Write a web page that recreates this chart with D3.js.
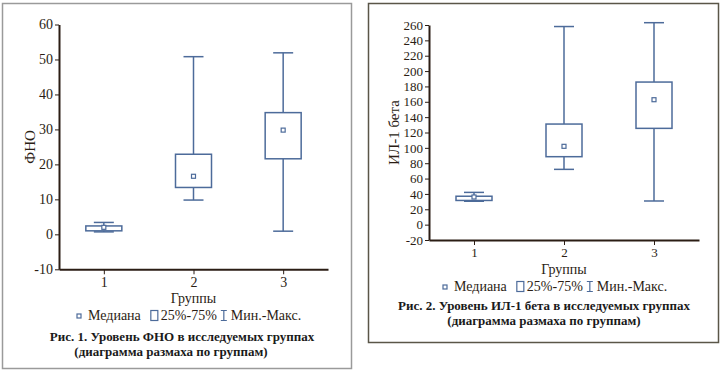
<!DOCTYPE html>
<html>
<head>
<meta charset="utf-8">
<script src="https://cdn.jsdelivr.net/npm/d3@7"></script>
<style>
  body { margin: 0; background: #fff; }
  svg text { font-family: "Liberation Serif", "Times New Roman", serif; }
</style>
</head>
<body>
<div id="chart"></div>
<script>
const groups = [1, 2, 3];

// Fig. 1 - TNF
const tnfMin = [0.7, 9.8, 0.9];
const tnfQ1 = [1.0, 13.4, 21.6];
const tnfMed = [2.0, 16.6, 29.8];
const tnfQ3 = [2.4, 22.9, 34.8];
const tnfMax = [3.4, 50.8, 51.9];
const tnfTicks = [-10, 0, 10, 20, 30, 40, 50, 60];

// Fig. 2 - IL-1 beta
const ilMin = [30.5, 72, 30.8];
const ilQ1 = [31.5, 88.5, 125.4];
const ilMed = [36, 102, 162.7];
const ilQ3 = [37, 131, 185.7];
const ilMax = [42, 258, 263];
const ilTicks = [-20, 0, 20, 40, 60, 80, 100, 120, 140, 160, 180, 200, 220, 240, 260];

const legendItems = ["Медиана", "25%-75%", "Мин.-Макс."];

const boxColor = "#4d6b9a";
const axisColor = "#2b1d14";

const svg = d3.select("#chart")
    .append("svg")
    .attr("width", 720)
    .attr("height", 377)
    .attr("font-family", "Liberation Serif");

function drawPanel(p) {
    const g = svg.append("g");

    // panel frame
    g.append("rect")
        .attr("x", p.frame[0] + 0.5)
        .attr("y", p.frame[1] + 0.5)
        .attr("width", p.frame[2] - p.frame[0])
        .attr("height", p.frame[3] - p.frame[1])
        .attr("fill", "none")
        .attr("stroke", p.frameColor)
        .attr("stroke-width", 1.5);

    const x = d3.scaleLinear().domain([0.5, 3.5]).range([p.left, p.right]);
    const y = d3.scaleLinear().domain([p.ticks[0], p.ticks[p.ticks.length - 1]]).range([p.bottom, p.top]);

    const yAxis = g.append("g")
        .attr("transform", `translate(${p.left},0)`)
        .call(d3.axisLeft(y).tickValues(p.ticks).tickFormat(d => String(d))
            .tickSize(4).tickPadding(2).tickSizeOuter(0));
    yAxis.attr("font-family", null);
    yAxis.select(".domain").attr("stroke", axisColor).attr("stroke-width", 2);
    yAxis.selectAll(".tick line").attr("stroke", axisColor);
    yAxis.selectAll(".tick text")
        .attr("fill", axisColor)
        .style("font-size", p.tickFont + "px");

    const xAxis = g.append("g")
        .attr("transform", `translate(0,${p.bottom})`)
        .call(d3.axisBottom(x).tickValues(groups).tickFormat(d => String(d))
            .tickSize(5).tickPadding(3).tickSizeOuter(0));
    xAxis.attr("font-family", null);
    xAxis.select(".domain").attr("stroke", axisColor).attr("stroke-width", 2);
    xAxis.selectAll(".tick line").attr("stroke", axisColor);
    xAxis.selectAll(".tick text")
        .attr("fill", axisColor)
        .style("font-size", p.tickFont + "px");

    // boxes
    const boxW = 36, capW = 20;
    const data = groups.map((d, i) => ({
        g: d, min: p.min[i], q1: p.q1[i], med: p.med[i], q3: p.q3[i], max: p.max[i]
    }));
    const bx = g.selectAll(".box").data(data).join("g").attr("class", "box")
        .attr("stroke", boxColor).attr("stroke-width", 1.5);
    bx.append("line")
        .attr("x1", d => x(d.g)).attr("x2", d => x(d.g))
        .attr("y1", d => y(d.max)).attr("y2", d => y(d.q3));
    bx.append("line")
        .attr("x1", d => x(d.g)).attr("x2", d => x(d.g))
        .attr("y1", d => y(d.q1)).attr("y2", d => y(d.min));
    bx.append("line")
        .attr("x1", d => x(d.g) - capW / 2).attr("x2", d => x(d.g) + capW / 2)
        .attr("y1", d => y(d.max)).attr("y2", d => y(d.max));
    bx.append("line")
        .attr("x1", d => x(d.g) - capW / 2).attr("x2", d => x(d.g) + capW / 2)
        .attr("y1", d => y(d.min)).attr("y2", d => y(d.min));
    bx.append("rect")
        .attr("x", d => x(d.g) - boxW / 2)
        .attr("y", d => y(d.q3))
        .attr("width", boxW)
        .attr("height", d => y(d.q1) - y(d.q3))
        .attr("fill", "#fff");
    bx.append("rect")
        .attr("x", d => x(d.g) - 2)
        .attr("y", d => y(d.med) - 2)
        .attr("width", 4).attr("height", 4)
        .attr("fill", "#fff")
        .attr("stroke-width", 1.2);

    // axis titles
    const midY = (p.top + p.bottom) / 2;
    g.append("text")
        .attr("transform", `translate(${p.yLabelX},${midY}) rotate(-90)`)
        .attr("text-anchor", "middle")
        .attr("fill", axisColor)
        .style("font-size", "15px")
        .text(p.yLabel);

    const midX = (p.left + p.right) / 2;
    g.append("text")
        .attr("x", midX).attr("y", p.xLabelY)
        .attr("text-anchor", "middle")
        .attr("fill", axisColor)
        .style("font-size", "14px")
        .text("Группы");

    // legend, laid out from measured text widths
    const lg = g.append("g").attr("transform", `translate(${p.legendX},${p.legendY})`);
    let cx = 0;
    lg.append("rect").attr("x", cx).attr("y", -6).attr("width", 4).attr("height", 4)
        .attr("fill", "#fff").attr("stroke", boxColor).attr("stroke-width", 1.2);
    cx += 11;
    const t1 = lg.append("text").attr("x", cx).attr("y", 0).attr("fill", axisColor)
        .style("font-size", "14px").text(legendItems[0]);
    cx += t1.node().getComputedTextLength() + 10;
    lg.append("rect").attr("x", cx).attr("y", -9.5).attr("width", 7).attr("height", 10)
        .attr("fill", "#fff").attr("stroke", boxColor).attr("stroke-width", 1.2);
    cx += 10;
    const t2 = lg.append("text").attr("x", cx).attr("y", 0).attr("fill", axisColor)
        .style("font-size", "14px").text(legendItems[1]);
    cx += t2.node().getComputedTextLength() + 4;
    lg.append("path").attr("d", `M${cx},-9.5H${cx + 6}M${cx + 3},-9.5V0.5M${cx},0.5H${cx + 6}`)
        .attr("fill", "none").attr("stroke", boxColor).attr("stroke-width", 1.2);
    cx += 10;
    lg.append("text").attr("x", cx).attr("y", 0).attr("fill", axisColor)
        .style("font-size", "14px").text(legendItems[2]);

    // caption
    p.caption.forEach((line, i) => {
        g.append("text")
            .attr("x", p.captionX[i]).attr("y", p.captionY[i])
            .attr("text-anchor", "middle")
            .attr("fill", "#1a1a1a")
            .style("font-size", "13px")
            .style("font-weight", "bold")
            .text(line);
    });
}

drawPanel({
    frame: [2, 3, 351, 368], frameColor: "#9a9a9a",
    left: 59, right: 328, top: 24.5, bottom: 269.3,
    ticks: tnfTicks, tickFont: 14,
    min: tnfMin, q1: tnfQ1, med: tnfMed, q3: tnfQ3, max: tnfMax,
    yLabel: "ФНО", yLabelX: 35, xLabelY: 303,
    legendX: 77, legendY: 320,
    caption: ["Рис. 1. Уровень ФНО в исследуемых группах", "(диаграмма размаха по группам)"],
    captionX: [182, 171], captionY: [341, 356]
});

drawPanel({
    frame: [368, 3, 718, 342], frameColor: "#5a5648",
    left: 429, right: 699, top: 25, bottom: 240,
    ticks: ilTicks, tickFont: 13,
    min: ilMin, q1: ilQ1, med: ilMed, q3: ilQ3, max: ilMax,
    yLabel: "ИЛ-1 бета", yLabelX: 399, xLabelY: 274,
    legendX: 443, legendY: 291,
    caption: ["Рис. 2. Уровень ИЛ-1 бета в исследуемых группах", "(диаграмма размаха по группам)"],
    captionX: [544, 544], captionY: [310, 325]
});
</script>
</body>
</html>
